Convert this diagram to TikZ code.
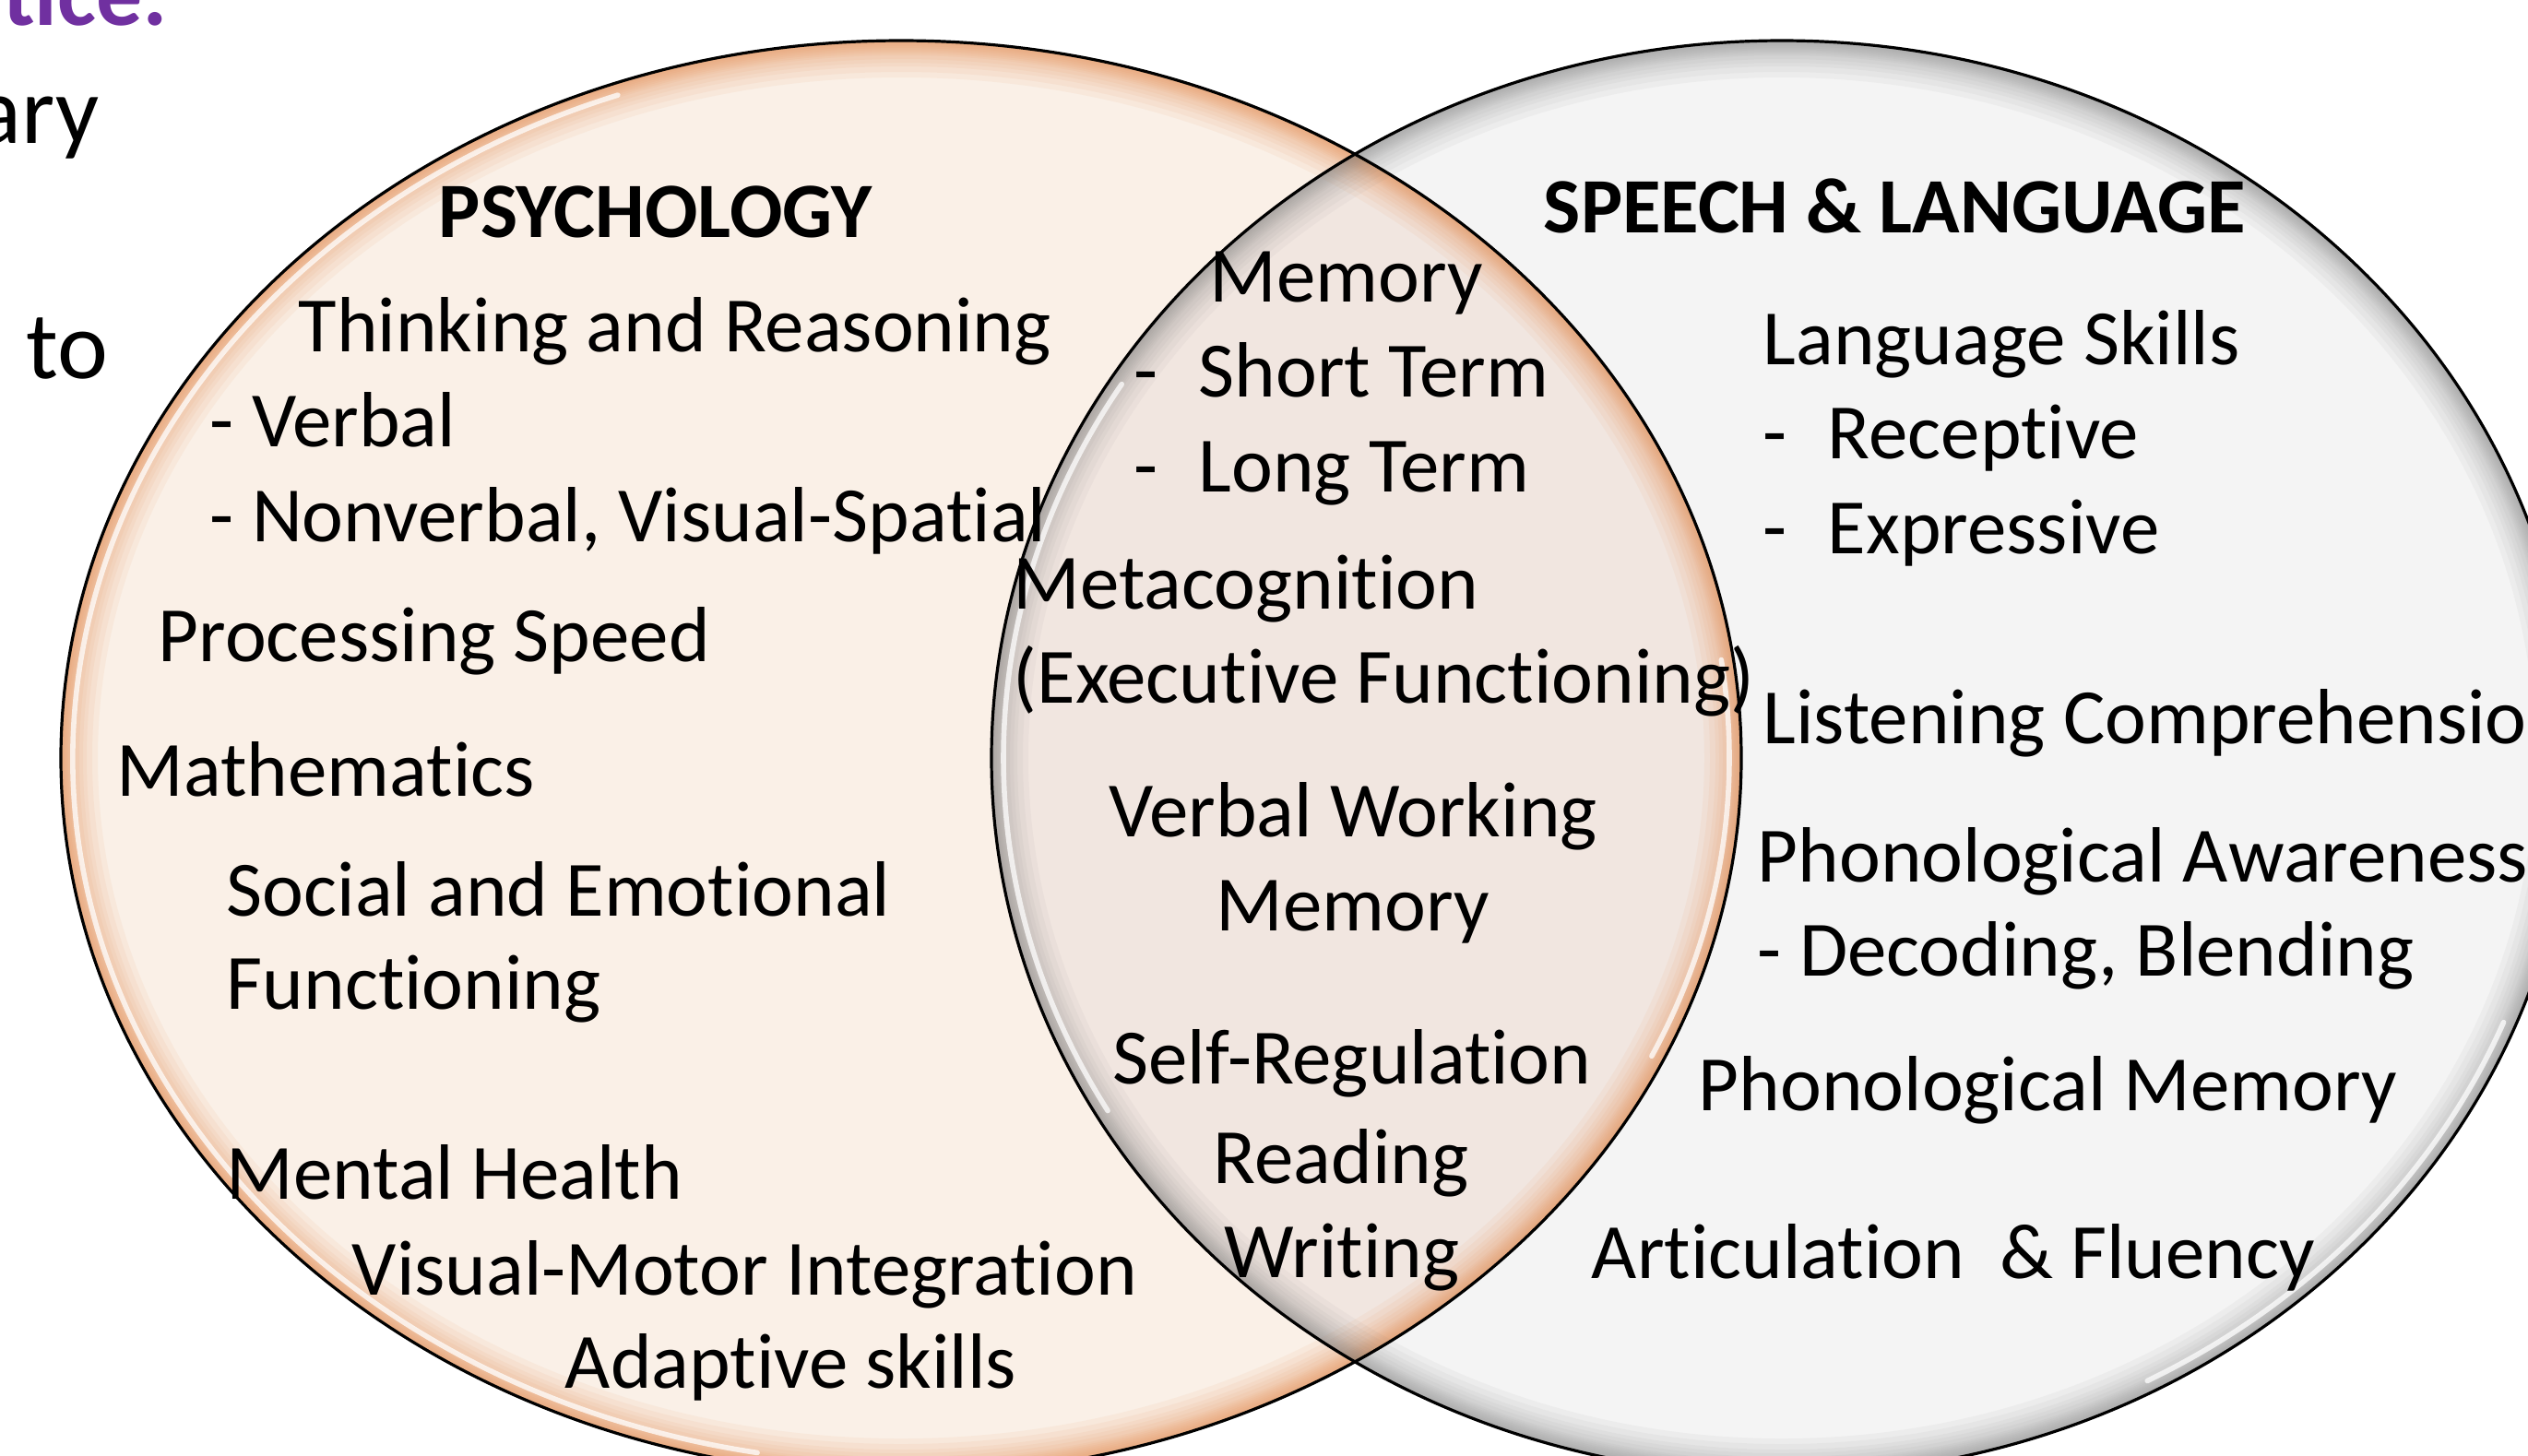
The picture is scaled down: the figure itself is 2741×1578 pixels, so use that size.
\documentclass[tikz,border=0pt]{standalone}
\usepackage{fontspec}
\setmainfont{Carlito}[Ligatures={NoCommon,NoContextual,NoRequired},Contextuals=NoAlternate]
\definecolor{peach}{HTML}{FAF0E7}
\definecolor{lgray}{HTML}{F4F4F4}
\definecolor{ovl}{HTML}{F1E6E0}
\definecolor{orng}{HTML}{E58A4E}
\definecolor{dgray}{HTML}{7A7A7A}
\definecolor{purp}{HTML}{7030A0}
\newcommand\dashitem[1]{\makebox[17.5pt][l]{-}#1}
\tikzset{
  txt/.style={inner sep=0pt, anchor=base west, font=\fontsize{21.25}{25}\selectfont},
  ctxt/.style={txt, anchor=base},
  headtxt/.style={txt, font=\fontsize{21.25}{25}\selectfont\bfseries},
  slidetxt/.style={inner sep=0pt, font=\fontsize{26}{30}\selectfont},
  outline/.style={draw=black, line width=0.8pt},
  hilite/.style={draw=white, line width=1.4pt, opacity=0.75, line cap=round},
}
\begin{document}
\begin{tikzpicture}[x=0.25pt, y=-0.25pt]
\useasboundingbox (0,0) rectangle (2741,1578);
\clip (0,0) rectangle (2741,1578);
\coordinate (L) at (977,822);
\coordinate (R) at (1932,822);
% fills
\fill[peach] (L) ellipse [x radius=911, y radius=778];
\fill[lgray] (R) ellipse [x radius=857, y radius=778];
\begin{scope}
  \clip (L) ellipse [x radius=911, y radius=778];
  \fill[ovl] (R) ellipse [x radius=857, y radius=778];
\end{scope}
% left glow
\begin{scope}
  \clip (L) ellipse [x radius=911, y radius=778];
  \foreach \w in {1,2,3,4,5,6,7,8,10,12,14,17,20}
    \draw[orng, opacity=0.075, line width=\w pt] (L) ellipse [x radius=911, y radius=778];
\end{scope}
\draw[hilite] (L) ++(100:898 and 765) arc [start angle=100, end angle=250, x radius=898, y radius=765];
\draw[hilite] (L) ++(-8:898 and 765) arc [start angle=-8, end angle=25, x radius=898, y radius=765];
% right glow
\begin{scope}
  \clip (R) ellipse [x radius=857, y radius=778];
  \foreach \w in {1,2,3,4,5,6,7,8,10,12,14,17,20}
    \draw[dgray, opacity=0.06, line width=\w pt] (R) ellipse [x radius=857, y radius=778];
\end{scope}
\draw[hilite] (R) ++(150:844 and 765) arc [start angle=150, end angle=212, x radius=844, y radius=765];
\draw[hilite] (R) ++(22:844 and 765) arc [start angle=22, end angle=62, x radius=844, y radius=765];
% outlines
\draw[outline] (L) ellipse [x radius=911, y radius=778];
\draw[outline] (R) ellipse [x radius=857, y radius=778];

% slide text behind
\node[slidetxt, font=\fontsize{25}{30}\selectfont\bfseries, text=purp, anchor=base east] (s1) at (183,27) {tice:};
\node[slidetxt, anchor=base east] (s2) at (108,155) {ary};
\node[slidetxt, anchor=base west] (s3) at (28,410) {to};

% psychology
\node[headtxt] (psy) at (475,257) {PSYCHOLOGY};
\node[txt] (p1) at (323,381) {Thinking and Reasoning};
\node[txt] (p2) at (227,484) {- Verbal};
\node[txt] (p3) at (227,587) {- Nonverbal, Visual-Spatial};
\node[txt] (p4) at (171,717) {Processing Speed};
\node[txt] (p5) at (126,863) {Mathematics};
\node[txt] (p6) at (245,993) {Social and Emotional};
\node[txt] (p7) at (245,1094) {Functioning};
\node[txt] (p8) at (245,1300) {Mental Health};
\node[txt] (p9) at (381,1404) {Visual-Motor Integration};
\node[txt] (p10) at (612,1505) {Adaptive skills};

% overlap
\node[txt] (o1) at (1311,327) {Memory};
\node[txt] (o2) at (1229,430) {\dashitem{Short Term}};
\node[txt] (o3) at (1229,533) {\dashitem{Long Term}};
\node[txt] (o4) at (1098,660) {Metacognition};
\node[txt] (o5) at (1098,762) {(Executive Functioning)};
\node[ctxt] (o6) at (1467,907) {Verbal Working};
\node[ctxt] (o7) at (1467,1009) {Memory};
\node[ctxt] (o8) at (1466,1175) {Self-Regulation};
\node[ctxt] (o9) at (1454,1283) {Reading};
\node[ctxt] (o10) at (1455,1385) {Writing};

% speech & language
\node[headtxt] (sl) at (1673,252) {SPEECH \& LANGUAGE};
\node[txt] (r1) at (1911,395) {Language Skills};
\node[txt] (r2) at (1911,497) {\dashitem{Receptive}};
\node[txt] (r3) at (1911,600) {\dashitem{Expressive}};
\node[txt] (r4) at (1911,806) {Listening Comprehension};
\node[txt] (r5) at (1905,956) {Phonological Awareness};
\node[txt] (r6) at (1905,1058) {- Decoding, Blending};
\node[txt] (r7) at (1841,1204) {Phonological Memory};
\node[txt] (r8) at (1725,1386) {Articulation\ \ \& Fluency};
\end{tikzpicture}
\end{document}
